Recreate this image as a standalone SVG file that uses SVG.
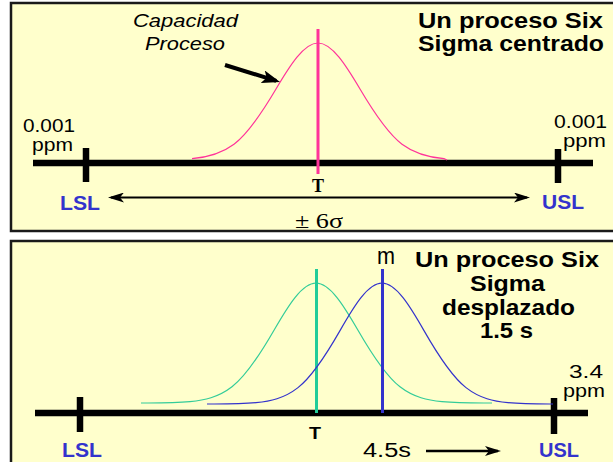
<svg xmlns="http://www.w3.org/2000/svg" width="613" height="462" viewBox="0 0 613 462">
<style>
.panel{fill:#ffffcc;stroke:#1a1a1a;stroke-width:2.5}
.axis{stroke:#000;stroke-width:6.5;fill:none}
.tick{stroke:#000;stroke-width:6.5}
.sans{font-family:"Liberation Sans",Arial,sans-serif}
.serif{font-family:"Liberation Serif","Times New Roman",serif}
.lim{font-family:"Liberation Sans",Arial,sans-serif;font-weight:bold;font-size:21px;fill:#3333cc}
.title{font-family:"Liberation Sans",Arial,sans-serif;font-weight:bold;font-size:21.5px;fill:#000}
.lbl{font-family:"Liberation Sans",Arial,sans-serif;font-size:18.5px;fill:#000}
.arr{stroke:#000;fill:none}
</style>
<defs>
<marker id="ah" markerUnits="userSpaceOnUse" viewBox="0 0 16 10" refX="13" refY="5" markerWidth="16" markerHeight="10" orient="auto-start-reverse">
<path d="M0,0 L16,5 L0,10 L4,5 Z" fill="#000"/>
</marker>
<marker id="ahBig" markerUnits="userSpaceOnUse" viewBox="0 0 18 13" refX="14" refY="6.5" markerWidth="18" markerHeight="13" orient="auto">
<path d="M0,0 L18,6.5 L0,13 L4,6.5 Z" fill="#000"/>
</marker>
</defs>
<rect width="613" height="462" fill="#fff"/>

<g id="panel-centrado">
<rect class="panel" x="11" y="3" width="620" height="228"/>
<g id="axis-top">
<line class="axis" x1="33" y1="163" x2="593" y2="163"/>
<line class="tick" x1="86" y1="148" x2="86" y2="182"/>
<line class="tick" x1="558" y1="149" x2="558" y2="183"/>
</g>
<g id="curve-pink">
<path d="M 192 158.7 C 206 157.4, 220 154.7, 234 144.2 C 248 133.6, 262 112.7, 276 89 C 290 65.4, 304 43, 318 43 C 332 43, 346 65.4, 360 89 C 374 112.7, 388 133.6, 402 144.2 C 416 154.7, 430 157.4, 444 158.7 L 447 160" fill="none" stroke="#ff3399" stroke-width="1.2"/>
<line x1="318" y1="29" x2="318" y2="174" stroke="#ff3399" stroke-width="3"/>
</g>
<g id="label-capacidad">
<text class="sans" x="133" y="27" font-size="19" font-style="italic" textLength="105" lengthAdjust="spacingAndGlyphs">Capacidad</text>
<text class="sans" x="145" y="50" font-size="19" font-style="italic" textLength="80" lengthAdjust="spacingAndGlyphs">Proceso</text>
</g>
<g id="title-top">
<text class="title" x="418" y="28" textLength="185" lengthAdjust="spacingAndGlyphs">Un proceso Six</text>
<text class="title" x="418" y="50.5" textLength="186" lengthAdjust="spacingAndGlyphs">Sigma centrado</text>
</g>
<g id="ppm-top">
<text class="lbl" x="23" y="132" textLength="52" lengthAdjust="spacingAndGlyphs">0.001</text>
<text class="lbl" x="32" y="151" textLength="41" lengthAdjust="spacingAndGlyphs">ppm</text>
<text class="lbl" x="554" y="127.5" textLength="53" lengthAdjust="spacingAndGlyphs">0.001</text>
<text class="lbl" x="563" y="147" textLength="43" lengthAdjust="spacingAndGlyphs">ppm</text>
</g>
<g id="limits-top">
<text class="lim" x="60" y="210" textLength="40" lengthAdjust="spacingAndGlyphs">LSL</text>
<text class="lim" x="542" y="209" textLength="42" lengthAdjust="spacingAndGlyphs">USL</text>
<text class="serif" x="312" y="192" font-size="18" font-weight="bold" textLength="12" lengthAdjust="spacingAndGlyphs">T</text>
<text class="serif" x="295" y="228" font-size="22" textLength="48" lengthAdjust="spacingAndGlyphs">± 6σ</text>
</g>
</g>

<g id="panel-desplazado">
<rect class="panel" x="11" y="241" width="620" height="240"/>
<g id="axis-bottom">
<line class="axis" x1="35" y1="413" x2="588" y2="413" stroke-width="7"/>
<line class="tick" x1="80" y1="397" x2="80" y2="432"/>
<line class="tick" x1="554" y1="398" x2="554" y2="434"/>
</g>
<g id="curve-green">
<path d="M 141 403 H 148 C 162 403, 176 403, 190 401.7 C 204 400.3, 218 397.6, 232 386.8 C 246 375.9, 260 354.5, 274 330.2 C 288 306, 302 283, 316 283 C 330 283, 344 306, 358 330.2 C 372 354.5, 386 375.9, 400 386.8 C 414 397.6, 428 400.3, 442 401.7 C 456 403, 470 403, 484 403 H 492" fill="none" stroke="#33cc99" stroke-width="1.2"/>
<line x1="316.5" y1="269" x2="316.5" y2="413" stroke="#22cc99" stroke-width="3"/>
</g>
<g id="curve-blue">
<path d="M 207 404 H 214 C 228 404, 242 404, 256 402.7 C 270 401.3, 284 398.5, 298 387.6 C 312 376.7, 326 355.1, 340 330.6 C 354 306.1, 368 283, 382 283 C 396 283, 410 306.1, 424 330.6 C 438 355.1, 452 376.7, 466 387.6 C 480 398.5, 494 401.3, 508 402.7 C 522 404, 536 404, 550 404 H 553" fill="none" stroke="#3333cc" stroke-width="1.2"/>
<line x1="382.5" y1="269" x2="382.5" y2="413" stroke="#3333cc" stroke-width="3"/>
<text class="sans" x="377" y="264" font-size="24" textLength="18" lengthAdjust="spacingAndGlyphs">m</text>
</g>
<g id="title-bottom">
<text class="title" x="415" y="267" textLength="184" lengthAdjust="spacingAndGlyphs">Un proceso Six</text>
<text class="title" x="470" y="291" textLength="75" lengthAdjust="spacingAndGlyphs">Sigma</text>
<text class="title" x="442" y="315" textLength="133" lengthAdjust="spacingAndGlyphs">desplazado</text>
<text class="title" x="480" y="338" textLength="53" lengthAdjust="spacingAndGlyphs">1.5 s</text>
</g>
<g id="ppm-bottom">
<text class="lbl" x="569" y="377.5" textLength="34" lengthAdjust="spacingAndGlyphs">3.4</text>
<text class="lbl" x="563" y="397" textLength="42" lengthAdjust="spacingAndGlyphs">ppm</text>
</g>
<g id="limits-bottom">
<text class="lim" x="62" y="457" textLength="40" lengthAdjust="spacingAndGlyphs">LSL</text>
<text class="lim" x="539" y="457" textLength="40" lengthAdjust="spacingAndGlyphs">USL</text>
<text class="sans" x="309" y="439" font-size="16" font-weight="bold" textLength="12" lengthAdjust="spacingAndGlyphs">T</text>
<text class="sans" x="363" y="457" font-size="20" textLength="48" lengthAdjust="spacingAndGlyphs">4.5s</text>
</g>
</g>

<g id="connectors">
<line class="arr" x1="225" y1="65" x2="276.2" y2="80.8" stroke-width="4" marker-end="url(#ahBig)"/>
<line class="arr" x1="111" y1="197.5" x2="527" y2="197.5" stroke-width="2" marker-start="url(#ah)" marker-end="url(#ah)"/>
<line class="arr" x1="426" y1="451" x2="498" y2="451" stroke-width="2.5" marker-end="url(#ah)"/>
</g>
</svg>
